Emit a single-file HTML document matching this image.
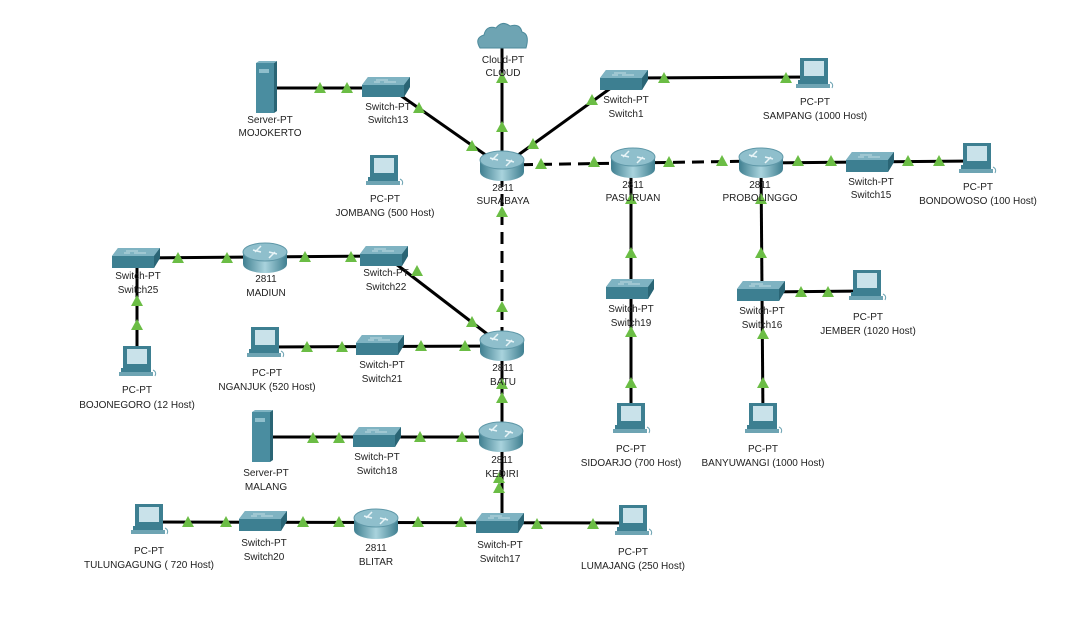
<!DOCTYPE html>
<html><head><meta charset="utf-8"><style>
html,body{margin:0;padding:0;background:#fff;}
svg{display:block;}
text{font-family:"Liberation Sans",sans-serif;font-size:10px;fill:#222;text-anchor:middle;}
</style></head><body>
<svg width="1084" height="624" viewBox="0 0 1084 624" xmlns="http://www.w3.org/2000/svg">
<defs>
<linearGradient id="rg" x1="0" x2="1" y1="0" y2="0">
<stop offset="0" stop-color="#3f7f90"/><stop offset="0.5" stop-color="#a9d3dd"/><stop offset="1" stop-color="#3f7f90"/></linearGradient>
<g id="router">
<path d="M-22,-6 L-22,6 A22,9 0 0 0 22,6 L22,-6 Z" fill="url(#rg)"/>
<ellipse cx="0" cy="-6" rx="22" ry="9" fill="#8fbfcc" stroke="#5f98a8" stroke-width="1"/>
<path d="M-12,-8 l8,2 M12,-4 l-8,-2 M-4,-12 l-6,6 M4,0 l6,-6" stroke="#e8f4f7" stroke-width="1.5"/>
</g>
<g id="switch">
<path d="M-24,-2 L-18,-10 L24,-10 L24,0 L18,10 L-24,10 Z" fill="#3d7f91"/>
<path d="M-24,-2 L-18,-10 L24,-10 L18,-2 Z" fill="#7fb3c2"/>
<path d="M18,-2 L24,-10 L24,0 L18,10 Z" fill="#2a6575"/>
<path d="M-10,-7 h12 M-2,-5 h12 M-12,-5 h6" stroke="#d5e9ee" stroke-width="0.8"/>
</g>
<g id="pc">
<rect x="-14" y="-16" width="28" height="22" fill="#3d7f91"/>
<rect x="-10" y="-13" width="20" height="15" fill="#c9e2ea"/>
<rect x="-16" y="6" width="30" height="4" fill="#3d7f91"/>
<rect x="-18" y="10" width="34" height="4" fill="#6ea4b3"/>
<path d="M16,8 q4,2 2,6" stroke="#6ea4b3" fill="none"/>
</g>
<g id="server">
<rect x="-10" y="-25" width="18" height="50" fill="#4a8da0"/>
<path d="M8,-25 L11,-27 L11,23 L8,25 Z" fill="#2a6575"/>
<path d="M-10,-25 L-7,-27 L11,-27 L8,-25 Z" fill="#7fb3c2"/>
<rect x="-7" y="-19" width="10" height="4" fill="#8fbfcc"/>
</g>
<g id="cloud">
<path d="M-22,10 q-6,-10 4,-13 q2,-10 12,-7 q6,-8 14,-2 q10,-3 12,6 q8,2 4,16 Z" fill="#6ea4b3" stroke="#4d8a9b"/>
</g>
<polygon id="t" points="0,-6 6,5 -6,5" fill="#6bbd45"/>
</defs>

<g stroke="#000" stroke-width="3" fill="none">
<line x1="502" y1="45" x2="502" y2="160"/>
<line x1="276" y1="88" x2="380" y2="88"/>
<line x1="400" y1="95" x2="490" y2="158"/>
<line x1="514" y1="158" x2="615" y2="85"/>
<line x1="630" y1="78" x2="814" y2="77"/>
<line x1="761" y1="163" x2="975" y2="161"/>
<line x1="136" y1="258" x2="384" y2="256"/>
<line x1="396" y1="264" x2="495" y2="340"/>
<line x1="137" y1="258" x2="137" y2="360"/>
<line x1="631" y1="163" x2="631" y2="420"/>
<line x1="761" y1="163" x2="763" y2="420"/>
<line x1="761" y1="292" x2="866" y2="291"/>
<line x1="265" y1="347" x2="502" y2="346"/>
<line x1="502" y1="345" x2="502" y2="523"/>
<line x1="262" y1="437" x2="501" y2="437"/>
<line x1="149" y1="522" x2="633" y2="523"/>
</g>
<g stroke="#000" stroke-width="3" stroke-dasharray="12,7" fill="none">
<line x1="502" y1="165" x2="761" y2="161"/>
<line x1="502" y1="175" x2="502" y2="340"/>
</g>

<use href="#cloud" x="502" y="38"/>
<use href="#server" x="266" y="88"/>
<use href="#server" x="262" y="437"/>
<use href="#switch" x="386" y="87"/>
<use href="#switch" x="624" y="80"/>
<use href="#switch" x="870" y="162"/>
<use href="#switch" x="136" y="258"/>
<use href="#switch" x="384" y="256"/>
<use href="#switch" x="630" y="289"/>
<use href="#switch" x="761" y="291"/>
<use href="#switch" x="380" y="345"/>
<use href="#switch" x="377" y="437"/>
<use href="#switch" x="263" y="521"/>
<use href="#switch" x="500" y="523"/>
<use href="#router" x="502" y="166"/>
<use href="#router" x="633" y="163"/>
<use href="#router" x="761" y="163"/>
<use href="#router" x="265" y="258"/>
<use href="#router" x="502" y="346"/>
<use href="#router" x="501" y="437"/>
<use href="#router" x="376" y="524"/>
<use href="#pc" x="814" y="74"/>
<use href="#pc" x="977" y="159"/>
<use href="#pc" x="384" y="171"/>
<use href="#pc" x="867" y="286"/>
<use href="#pc" x="265" y="343"/>
<use href="#pc" x="137" y="362"/>
<use href="#pc" x="631" y="419"/>
<use href="#pc" x="763" y="419"/>
<use href="#pc" x="149" y="520"/>
<use href="#pc" x="633" y="521"/>

<g>
<use href="#t" x="502" y="78"/><use href="#t" x="502" y="127"/>
<use href="#t" x="320" y="88"/><use href="#t" x="347" y="88"/>
<use href="#t" x="419" y="108"/><use href="#t" x="472" y="146"/>
<use href="#t" x="533" y="144"/><use href="#t" x="592" y="100"/>
<use href="#t" x="664" y="78"/><use href="#t" x="786" y="78"/>
<use href="#t" x="541" y="164"/><use href="#t" x="594" y="162"/>
<use href="#t" x="669" y="162"/><use href="#t" x="722" y="161"/>
<use href="#t" x="798" y="161"/><use href="#t" x="831" y="161"/>
<use href="#t" x="908" y="161"/><use href="#t" x="939" y="161"/>
<use href="#t" x="502" y="212"/><use href="#t" x="502" y="307"/>
<use href="#t" x="178" y="258"/><use href="#t" x="227" y="258"/>
<use href="#t" x="305" y="257"/><use href="#t" x="351" y="257"/>
<use href="#t" x="417" y="271"/><use href="#t" x="472" y="322"/>
<use href="#t" x="137" y="301"/><use href="#t" x="137" y="325"/>
<use href="#t" x="631" y="199"/><use href="#t" x="631" y="253"/>
<use href="#t" x="631" y="332"/><use href="#t" x="631" y="383"/>
<use href="#t" x="761" y="199"/><use href="#t" x="761" y="253"/>
<use href="#t" x="801" y="292"/><use href="#t" x="828" y="292"/>
<use href="#t" x="763" y="334"/><use href="#t" x="763" y="383"/>
<use href="#t" x="307" y="347"/><use href="#t" x="342" y="347"/>
<use href="#t" x="421" y="346"/><use href="#t" x="465" y="346"/>
<use href="#t" x="502" y="384"/><use href="#t" x="502" y="398"/>
<use href="#t" x="313" y="438"/><use href="#t" x="339" y="438"/>
<use href="#t" x="420" y="437"/><use href="#t" x="462" y="437"/>
<use href="#t" x="499" y="478"/><use href="#t" x="499" y="488"/>
<use href="#t" x="188" y="522"/><use href="#t" x="226" y="522"/>
<use href="#t" x="303" y="522"/><use href="#t" x="339" y="522"/>
<use href="#t" x="418" y="522"/><use href="#t" x="461" y="522"/>
<use href="#t" x="537" y="524"/><use href="#t" x="593" y="524"/>
</g>

<text x="503" y="63">Cloud-PT</text><text x="503" y="76">CLOUD</text>
<text x="270" y="123">Server-PT</text><text x="270" y="136">MOJOKERTO</text>
<text x="388" y="110">Switch-PT</text><text x="388" y="123">Switch13</text>
<text x="626" y="103">Switch-PT</text><text x="626" y="117">Switch1</text>
<text x="815" y="105">PC-PT</text><text x="815" y="119">SAMPANG (1000 Host)</text>
<text x="503" y="191">2811</text><text x="503" y="204">SURABAYA</text>
<text x="633" y="188">2811</text><text x="633" y="201">PASURUAN</text>
<text x="760" y="188">2811</text><text x="760" y="201">PROBOLINGGO</text>
<text x="871" y="185">Switch-PT</text><text x="871" y="198">Switch15</text>
<text x="978" y="190">PC-PT</text><text x="978" y="204">BONDOWOSO (100 Host)</text>
<text x="385" y="202">PC-PT</text><text x="385" y="216">JOMBANG (500 Host)</text>
<text x="138" y="279">Switch-PT</text><text x="138" y="293">Switch25</text>
<text x="266" y="282">2811</text><text x="266" y="296">MADIUN</text>
<text x="386" y="276">Switch-PT</text><text x="386" y="290">Switch22</text>
<text x="631" y="312">Switch-PT</text><text x="631" y="326">Switch19</text>
<text x="762" y="314">Switch-PT</text><text x="762" y="328">Switch16</text>
<text x="868" y="320">PC-PT</text><text x="868" y="334">JEMBER (1020 Host)</text>
<text x="267" y="376">PC-PT</text><text x="267" y="390">NGANJUK (520 Host)</text>
<text x="382" y="368">Switch-PT</text><text x="382" y="382">Switch21</text>
<text x="503" y="371">2811</text><text x="503" y="385">BATU</text>
<text x="137" y="393">PC-PT</text><text x="137" y="408">BOJONEGORO (12 Host)</text>
<text x="266" y="476">Server-PT</text><text x="266" y="490">MALANG</text>
<text x="377" y="460">Switch-PT</text><text x="377" y="474">Switch18</text>
<text x="502" y="463">2811</text><text x="502" y="477">KEDIRI</text>
<text x="631" y="452">PC-PT</text><text x="631" y="466">SIDOARJO (700 Host)</text>
<text x="763" y="452">PC-PT</text><text x="763" y="466">BANYUWANGI (1000 Host)</text>
<text x="149" y="554">PC-PT</text><text x="149" y="568">TULUNGAGUNG ( 720 Host)</text>
<text x="264" y="546">Switch-PT</text><text x="264" y="560">Switch20</text>
<text x="376" y="551">2811</text><text x="376" y="565">BLITAR</text>
<text x="500" y="548">Switch-PT</text><text x="500" y="562">Switch17</text>
<text x="633" y="555">PC-PT</text><text x="633" y="569">LUMAJANG (250 Host)</text>
</svg>
</body></html>
